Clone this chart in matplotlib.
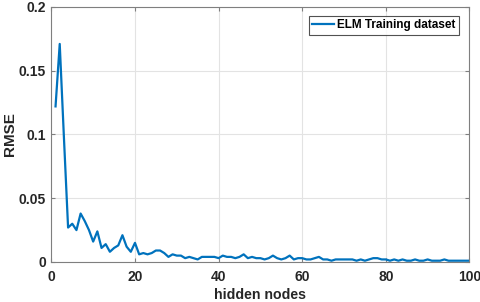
import matplotlib.pyplot as plt
import numpy as np

plt.rcParams['font.family'] = ['Liberation Sans', 'DejaVu Sans']

nodes = np.arange(1, 101)
rmse = [0.122, 0.171, 0.098, 0.027, 0.030, 0.025, 0.038, 0.032, 0.025, 0.016,
        0.024, 0.011, 0.014, 0.008, 0.011, 0.013, 0.021, 0.012, 0.008, 0.015,
        0.006, 0.007, 0.006, 0.007, 0.009, 0.009, 0.007, 0.004, 0.006, 0.005,
        0.005, 0.003, 0.004, 0.003, 0.002, 0.004, 0.004, 0.004, 0.004, 0.003,
        0.005, 0.004, 0.004, 0.003, 0.004, 0.006, 0.003, 0.004, 0.003, 0.003,
        0.002, 0.003, 0.005, 0.003, 0.002, 0.003, 0.005, 0.002, 0.003, 0.003,
        0.002, 0.002, 0.003, 0.004, 0.002, 0.002, 0.001, 0.002, 0.002, 0.002,
        0.002, 0.002, 0.001, 0.002, 0.001, 0.002, 0.003, 0.003, 0.002, 0.002,
        0.001, 0.002, 0.001, 0.002, 0.001, 0.001, 0.002, 0.001, 0.001, 0.002,
        0.001, 0.001, 0.001, 0.002, 0.001, 0.001, 0.001, 0.001, 0.001, 0.001]

xticks = [0, 20, 40, 60, 80, 100]
yticks = [0, 0.05, 0.1, 0.15, 0.2]
ytick_labels = ['0', '0.05', '0.1', '0.15', '0.2']

fig = plt.figure(figsize=(4.8, 3.02), dpi=100)
ax = fig.add_axes([0.107, 0.1325, 0.871, 0.8445])

ax.plot(nodes, rmse, color='#0072BD', linewidth=1.6, label='ELM Training dataset')

ax.set_xlim(0, 100)
ax.set_ylim(0, 0.2)
ax.set_xticks(xticks)
ax.set_yticks(yticks)
ax.set_yticklabels(ytick_labels)
ax.grid(True, color='#e3e3e3', linewidth=0.8)
ax.set_axisbelow(True)

for s in ax.spines.values():
    s.set_color('#7f7f7f')
    s.set_linewidth(0.8)
ax.tick_params(direction='in', length=3, color='#7f7f7f', top=True, right=True,
               labelsize=10, labelcolor='#262626')
ax.tick_params(axis='x', pad=6)
ax.tick_params(axis='y', pad=4)
for lbl in ax.get_xticklabels() + ax.get_yticklabels():
    lbl.set_fontweight('bold')

ax.set_xlabel('hidden nodes', fontsize=10.2, fontweight='bold', color='#262626', labelpad=3)
ax.set_ylabel('RMSE', fontsize=11, fontweight='bold', color='#262626', labelpad=1)

leg = ax.legend(loc='upper right', bbox_to_anchor=(0.975, 0.965), fancybox=False,
                prop={'weight': 'bold', 'size': 8.5}, handlelength=1.8,
                borderpad=0.3, handletextpad=0.3, borderaxespad=0)
leg.get_frame().set_edgecolor('#262626')
leg.get_frame().set_linewidth(0.8)

fig.savefig('out.png', dpi=100)
